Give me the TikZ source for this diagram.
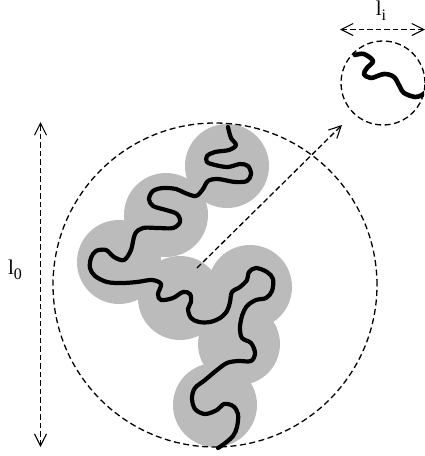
\documentclass[tikz,border=0pt]{standalone}
\usepackage{fontspec}
\setmainfont{Liberation Serif}
\usetikzlibrary{arrows.meta}
\definecolor{blobgray}{RGB}{187,187,187}
\begin{document}
\begin{tikzpicture}[x=1pt,y=-1pt,
  blob/.style={fill=blobgray,draw=none},
  dashcirc/.style={draw=black,line width=1.3pt,dash pattern=on 6pt off 3.5pt},
  dasharrow/.style={draw=black,line width=1.3pt,dash pattern=on 5.5pt off 3pt,
     arrows={Straight Barb[length=12pt,width=12pt,line width=1.1pt]-Straight Barb[length=12pt,width=12pt,line width=1.1pt]}},
  onearrow/.style={draw=black,line width=1.3pt,dash pattern=on 5.5pt off 3pt,
     arrows={-Straight Barb[length=12pt,width=12pt,line width=1.1pt]}},
  chain/.style={draw=black,line width=4.2pt,line cap=round,line join=round},
  lab/.style={inner sep=0pt,font=\fontsize{21}{24}\selectfont}
]
\useasboundingbox (0,0) rectangle (424,456);
% gray blobs
\foreach \cx/\cy/\r in {227/166/42,166/215/42,119/262/42,180/298/42,250/287/42,239/344/41,215/405/42}
  \fill[blob] (\cx,\cy) circle[radius=\r];
% big circle
\node[dashcirc,circle,minimum size=324pt,inner sep=0pt] (big) at (215,285) {};
% small circle
\node[dashcirc,circle,minimum size=84pt,inner sep=0pt] (small) at (383,83) {};
% main chain
\draw[chain] plot[smooth,tension=0.55] coordinates {
(228,127) (231,138) (236,145) (229,150) (215,152) (207,156) (207,162) (215,165) (228,167)
(240,164) (248,166) (251,174) (247,181) (235,182) (218,179) (208,181) (203,189) (196,196)
(185,193) (176,189) (163,188) (153,191) (149,199) (153,206) (166,210) (177,214) (180,222)
(173,228) (158,228) (143,228) (135,234) (131,250) (124,260) (114,257) (106,250) (96,251)
(91,258) (90,268) (95,276) (107,282) (122,283) (137,282) (152,280) (161,284) (158,294)
(161,300) (173,298) (183,292) (190,294) (191,302) (188,309) (191,318) (199,322) (210,322)
(220,318) (227,311) (230,302) (232,292) (240,287) (247,280) (249,272) (256,268) (267,272)
(273,279) (272,291) (266,298) (256,300) (247,306) (242,316) (240,328) (242,338) (251,343)
(255,353) (251,361) (238,361) (227,363) (217,370) (205,380) (195,388) (192,398) (195,409)
(205,414) (217,410) (224,404) (233,406) (238,414) (237,427) (233,436) (224,444) (218,448)};
% small chain
\begin{scope}
\clip (0,0) rectangle (424,456);
\draw[chain,line width=4.6pt] plot[smooth,tension=0.55] coordinates {
(355,55) (364,54) (373,61) (367,68) (364,74) (371,78) (384,74) (394,77) (400,87) (404,93)
(415,97) (422,95) (426,92)};
\end{scope}
% l0 arrow
\coordinate (l0top) at (40.5,122);
\coordinate (l0bot) at (40.5,447);
\draw[dasharrow] (l0bot) -- (l0top);
\node[lab] (l0) at (15,270) {l\raisebox{-5pt}{\fontsize{16}{16}\selectfont 0}};
% li arrow
\coordinate (lileft) at (340,29.5);
\coordinate (liright) at (425,29.5);
\draw[dasharrow] (lileft) -- (liright);
\node[lab] (li) at (381,10.5) {l\raisebox{-5pt}{\fontsize{16}{16}\selectfont i}};
% diagonal arrow
\coordinate (dstart) at (197,268);
\coordinate (dtip) at (342,125);
\draw[onearrow] (dstart) -- (dtip);
\end{tikzpicture}
\end{document}
